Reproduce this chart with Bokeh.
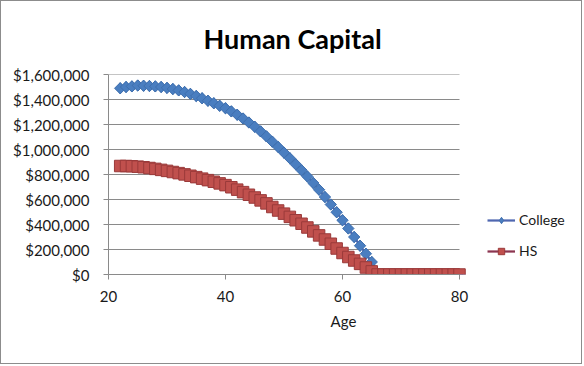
import numpy as np
from bokeh.plotting import figure
from bokeh.models import (ColumnDataSource, FixedTicker, NumeralTickFormatter,
                          Legend, LegendItem)
from bokeh.embed import file_html
from bokeh.resources import INLINE

ages = list(range(22, 81))

college = [1490000, 1500000, 1505000, 1512000, 1510000, 1508000, 1505000, 1500000,
           1493000, 1484000, 1473000, 1460000, 1445000, 1428000, 1410000, 1390000,
           1370000, 1350000, 1330000, 1305000, 1278000, 1248000, 1216000, 1182000,
           1145000, 1105000, 1063000, 1020000, 975000, 930000, 882000, 834000,
           784000, 732000, 678000, 620000, 560000, 498000, 434000, 368000,
           300000, 230000, 166000, 100000] + [0] * 15

hs = [868000, 868000, 866000, 863000, 858000, 852000, 845000, 837000, 829000,
      820000, 811000, 801000, 790000, 779000, 767000, 755000, 742000, 729000,
      715000, 698000, 679000, 659000, 638000, 616000, 593000, 569000, 540000,
      512000, 487000, 461000, 434000, 406000, 376000, 345000, 313000, 280000,
      246000, 208000, 172000, 140000, 112000, 85000, 56000, 25000] + [0] * 15

y_ticks = [0, 200000, 400000, 600000, 800000, 1000000, 1200000, 1400000, 1600000]
x_ticks = [20, 40, 60, 80]
x_min, x_max = 20, 80

src = ColumnDataSource(dict(age=ages, college=college, hs=hs))

FONT = "Lato"
TXT = "#1a1a1a"
GRID = "#8a8a8a"
C_LINE, C_FILL, C_EDGE = "#4f67b0", "#4a7ec0", "#3f6fae"
H_LINE, H_FILL, H_EDGE = "#8c3550", "#c0504d", "#9a3a3a"

# layout geometry (pixels)
W, H = 582, 364
LEFT, RIGHT, TOP, BOTTOM = 107, 5, 73, 91
axis_px = 351                     # pixel length of the 20..80 axis
frame_w = W - LEFT - RIGHT
x_end = x_min + (x_max - x_min) * frame_w / axis_px

p = figure(width=W, height=H, output_backend="svg", toolbar_location=None,
           x_range=(x_min, x_end), y_range=(0, 1600000),
           min_border_left=LEFT, min_border_right=RIGHT,
           min_border_top=TOP, min_border_bottom=BOTTOM)
p.styles = {"border": "1px solid #8c8c8c"}
p.outline_line_color = None
p.background_fill_color = "white"
p.border_fill_color = "white"

p.title.text = "Human Capital"
p.title.text_font = FONT
p.title.text_font_size = "27px"
p.title.text_font_style = "bold"
p.title.text_color = "black"
p.title.align = "left"
p.title.offset = 95
p.title.standoff = 35
p.title.vertical_align = "top"

# horizontal gridlines only across the 20..80 span
p.xgrid.grid_line_color = None
p.ygrid.grid_line_color = None
grid_y = [t for t in y_ticks if t > 0]
p.segment(x0=[x_min] * len(grid_y), x1=[x_max] * len(grid_y), y0=grid_y, y1=grid_y,
          line_color=GRID, line_width=1)

p.yaxis.ticker = FixedTicker(ticks=y_ticks)
p.yaxis.formatter = NumeralTickFormatter(format="$0,0")
p.xaxis.ticker = FixedTicker(ticks=x_ticks)
p.xaxis.bounds = (x_min, x_max)
p.xaxis.axis_label = "Age"

for ax in (p.xaxis, p.yaxis):
    ax.axis_line_color = GRID
    ax.major_tick_line_color = GRID
    ax.major_tick_out = 5
    ax.major_tick_in = 0
    ax.minor_tick_line_color = None
    ax.major_label_text_font = FONT
    ax.major_label_text_font_size = "15px"
    ax.major_label_text_color = TXT
    ax.axis_label_text_font = FONT
    ax.axis_label_text_font_size = "15px"
    ax.axis_label_text_font_style = "normal"
    ax.axis_label_text_color = TXT

p.yaxis.major_label_standoff = 14
p.xaxis.major_label_standoff = 11
p.xaxis.axis_label_standoff = 7

c_line = p.line("age", "college", source=src, line_color=C_LINE, line_width=2.25)
# diamond (used for legend swatch) under a rotated square that gives Excel's diamond shape
c_dia = p.scatter("age", "college", source=src, marker="diamond", size=11,
                  fill_color=C_FILL, line_color=C_EDGE, line_width=1)
c_mark = p.scatter("age", "college", source=src, marker="square", angle=np.pi / 4,
                   size=8, fill_color=C_FILL, line_color=C_EDGE, line_width=1)
h_line = p.line("age", "hs", source=src, line_color=H_LINE, line_width=2.25)
h_mark = p.scatter("age", "hs", source=src, marker="square", size=11.5,
                   fill_color=H_FILL, line_color=H_EDGE, line_width=1)

legend = Legend(items=[LegendItem(label="College", renderers=[c_line, c_dia]),
                       LegendItem(label="HS", renderers=[h_line, h_mark])],
                location=(379, 15), orientation="vertical",
                glyph_width=28, glyph_height=16, label_standoff=4,
                spacing=14, padding=0, margin=0,
                label_text_font=FONT, label_text_font_size="14px",
                label_text_color=TXT,
                border_line_color=None, background_fill_alpha=0)
p.add_layout(legend, "center")

open("out.html", "w").write(file_html(p, INLINE))
